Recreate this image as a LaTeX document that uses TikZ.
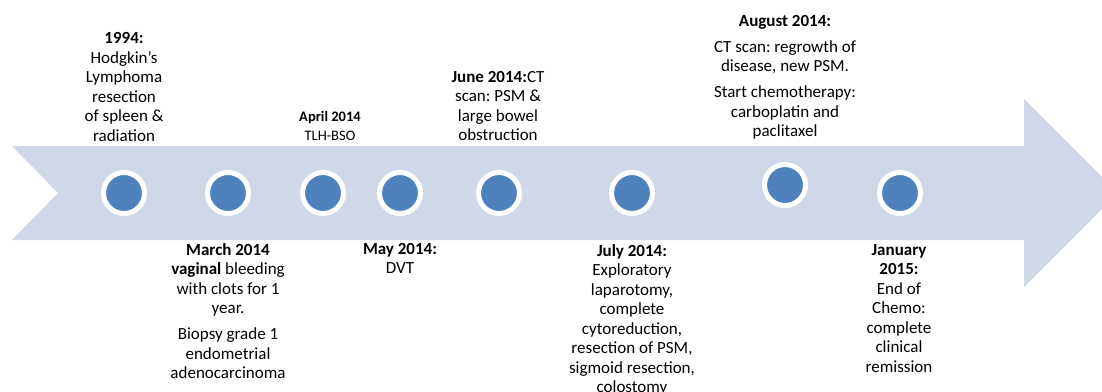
\documentclass[tikz,border=0pt]{standalone}
\usepackage{fontspec}
\setmainfont{Carlito}
\usepackage{xcolor}
\usepackage{tikz}
\usetikzlibrary{calc}
\frenchspacing
\definecolor{band}{HTML}{D0D8E8}
\definecolor{evblue}{HTML}{4F81BD}
\tikzstyle{event} = [circle,fill=evblue,draw=white,line width=5pt,
	minimum size=41pt,inner sep=0pt]
\tikzstyle{note} = [align=center,inner sep=0pt,anchor=north,
	font=\fontsize{17}{19.5}\selectfont]
\tikzstyle{smallnote} = [note,font=\fontsize{14.5}{18.5}\selectfont]
\begin{document}
\begin{tikzpicture}[x=1pt,y=-1pt]
	\clip (0,0) rectangle (1102,391);
	% timeline band
	\fill[band] (12,146) -- (1024,146) -- (1024,99) -- (1118,193)
		-- (1024,287) -- (1024,240) -- (12,240) -- (58,193) -- cycle;

	\node[event] (c1994) at (124,193) {};
	\node[event] (cmar)  at (228,193) {};
	\node[event] (capr)  at (323,193) {};
	\node[event] (cmay)  at (400,193) {};
	\node[event] (cjun)  at (499,193) {};
	\node[event] (cjul)  at (632,193) {};
	\node[event] (caug)  at (785,185) {};
	\node[event] (cjan)  at (900,193) {};

	% above the band
	\node[note] (t1994) at (124,32.5) {\textbf{1994:}\\Hodgkin's\\Lymphoma\\resection\\of spleen \&\\radiation};
	\node[smallnote] (tapr) at (330,111.5) {\textbf{April 2014}\\TLH-BSO};
	\node[note] (tjun) at (498,71) {\textbf{June 2014:}CT\\scan: PSM \&\\large bowel\\obstruction};
	\node[note] (taug) at (785,15) {\textbf{August 2014:}\\[6.5pt]CT scan: regrowth of\\disease, new PSM.\\[6.5pt]Start chemotherapy:\\carboplatin and\\paclitaxel};

	% below the band
	\node[note] (tmar) at (228,243) {\textbf{March 2014}\\\textbf{vaginal} bleeding\\with clots for 1\\year.\\[6.5pt]Biopsy grade 1\\endometrial\\adenocarcinoma};
	\node[note] (tmay) at (400,243) {\textbf{May 2014:}\\DVT};
	\node[note] (tjul) at (632,244) {\textbf{July 2014:}\\Exploratory\\laparotomy,\\complete\\cytoreduction,\\resection of PSM,\\sigmoid resection,\\colostomy};
	\node[note] (tjan) at (899,244) {\textbf{January}\\\textbf{2015:}\\End of\\Chemo:\\complete\\clinical\\remission};
\end{tikzpicture}
\end{document}
